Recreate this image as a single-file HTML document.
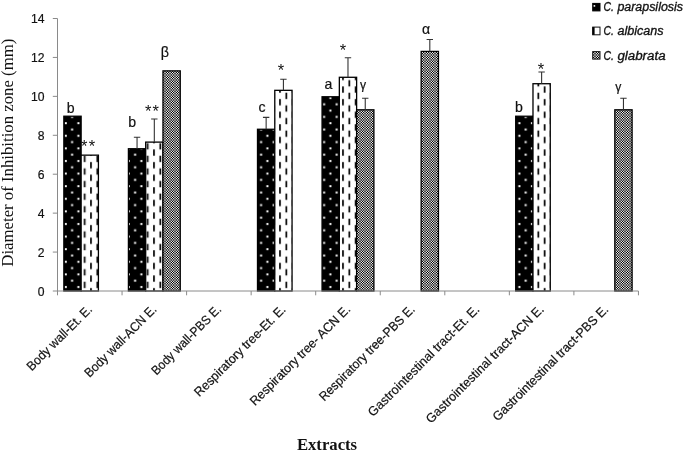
<!DOCTYPE html>
<html><head><meta charset="utf-8"><title>Chart</title>
<style>html,body{margin:0;padding:0;background:#fff}svg{display:block;will-change:transform}text{font-family:"Liberation Sans",sans-serif;fill:#111;stroke:#111;stroke-width:.2px}text.t{stroke:none}</style></head>
<body>
<svg width="685" height="452" viewBox="0 0 685 452">
<defs>
<pattern id="pd" patternUnits="userSpaceOnUse" x="0" y="0" width="12.6" height="12.6"><rect width="12.6" height="12.6" fill="#000"/><rect x="1.80" y="8.80" width="2.0" height="2.0" fill="#fff"/><rect x="8.10" y="2.50" width="2.0" height="2.0" fill="#fff"/></pattern>
<pattern id="pv" patternUnits="userSpaceOnUse" x="0" y="0" width="12.6" height="12.6"><rect width="12.6" height="12.6" fill="#fff"/><rect x="1.95" y="-1.75" width="1.7" height="6.3" fill="#000"/><rect x="1.95" y="10.85" width="1.7" height="6.3" fill="#000"/><rect x="8.25" y="4.55" width="1.7" height="6.3" fill="#000"/></pattern>
<pattern id="pc" patternUnits="userSpaceOnUse" x="0" y="0" width="5" height="5" shape-rendering="crispEdges"><rect x="0" y="0" width="1" height="1" fill="#878787"/><rect x="1" y="0" width="1" height="1" fill="#505050"/><rect x="2" y="0" width="1" height="1" fill="#a9a9a9"/><rect x="3" y="0" width="1" height="1" fill="#505050"/><rect x="4" y="0" width="1" height="1" fill="#878787"/><rect x="0" y="1" width="1" height="1" fill="#505050"/><rect x="1" y="1" width="1" height="1" fill="#e0e0e0"/><rect x="2" y="1" width="1" height="1" fill="#000000"/><rect x="3" y="1" width="1" height="1" fill="#e0e0e0"/><rect x="4" y="1" width="1" height="1" fill="#505050"/><rect x="0" y="2" width="1" height="1" fill="#a9a9a9"/><rect x="1" y="2" width="1" height="1" fill="#000000"/><rect x="2" y="2" width="1" height="1" fill="#ffffff"/><rect x="3" y="2" width="1" height="1" fill="#000000"/><rect x="4" y="2" width="1" height="1" fill="#a9a9a9"/><rect x="0" y="3" width="1" height="1" fill="#505050"/><rect x="1" y="3" width="1" height="1" fill="#e0e0e0"/><rect x="2" y="3" width="1" height="1" fill="#000000"/><rect x="3" y="3" width="1" height="1" fill="#e0e0e0"/><rect x="4" y="3" width="1" height="1" fill="#505050"/><rect x="0" y="4" width="1" height="1" fill="#878787"/><rect x="1" y="4" width="1" height="1" fill="#505050"/><rect x="2" y="4" width="1" height="1" fill="#a9a9a9"/><rect x="3" y="4" width="1" height="1" fill="#505050"/><rect x="4" y="4" width="1" height="1" fill="#878787"/></pattern>
</defs>
<rect width="685" height="452" fill="#fff"/>
<rect x="63.85" y="116.22" width="17.28" height="174.78" fill="url(#pd)" stroke="#000" stroke-width="1.3"/>
<rect x="81.13" y="155.15" width="17.28" height="135.85" fill="url(#pv)" stroke="#000" stroke-width="1.3"/>
<rect x="128.41" y="148.73" width="17.28" height="142.27" fill="url(#pd)" stroke="#000" stroke-width="1.3"/>
<path d="M137.05 148.73V137.20M133.85 137.20H140.25" stroke="#333" stroke-width="1.1" fill="none"/>
<rect x="145.69" y="142.11" width="17.28" height="148.89" fill="url(#pv)" stroke="#000" stroke-width="1.3"/>
<path d="M154.32 142.11V119.00M151.12 119.00H157.52" stroke="#333" stroke-width="1.1" fill="none"/>
<rect x="162.97" y="70.87" width="17.28" height="220.13" fill="url(#pc)" stroke="#000" stroke-width="1.3"/>
<rect x="257.50" y="129.26" width="17.28" height="161.74" fill="url(#pd)" stroke="#000" stroke-width="1.3"/>
<path d="M266.14 129.26V117.40M262.94 117.40H269.34" stroke="#333" stroke-width="1.1" fill="none"/>
<rect x="274.78" y="90.33" width="17.28" height="200.67" fill="url(#pv)" stroke="#000" stroke-width="1.3"/>
<path d="M283.42 90.33V79.20M280.22 79.20H286.62" stroke="#333" stroke-width="1.1" fill="none"/>
<rect x="322.06" y="96.76" width="17.28" height="194.24" fill="url(#pd)" stroke="#000" stroke-width="1.3"/>
<rect x="339.34" y="77.29" width="17.28" height="213.71" fill="url(#pv)" stroke="#000" stroke-width="1.3"/>
<path d="M347.98 77.29V57.80M344.78 57.80H351.18" stroke="#333" stroke-width="1.1" fill="none"/>
<rect x="356.62" y="109.80" width="17.28" height="181.20" fill="url(#pc)" stroke="#000" stroke-width="1.3"/>
<path d="M365.25 109.80V98.20M362.06 98.20H368.45" stroke="#333" stroke-width="1.1" fill="none"/>
<rect x="421.17" y="51.41" width="17.28" height="239.59" fill="url(#pc)" stroke="#000" stroke-width="1.3"/>
<path d="M429.81 51.41V39.50M426.61 39.50H433.00" stroke="#333" stroke-width="1.1" fill="none"/>
<rect x="515.70" y="116.22" width="17.28" height="174.78" fill="url(#pd)" stroke="#000" stroke-width="1.3"/>
<rect x="532.98" y="83.72" width="17.28" height="207.28" fill="url(#pv)" stroke="#000" stroke-width="1.3"/>
<path d="M541.62 83.72V72.00M538.42 72.00H544.82" stroke="#333" stroke-width="1.1" fill="none"/>
<rect x="614.82" y="109.80" width="17.28" height="181.20" fill="url(#pc)" stroke="#000" stroke-width="1.3"/>
<path d="M623.46 109.80V98.20M620.25 98.20H626.66" stroke="#333" stroke-width="1.1" fill="none"/>
<path d="M57.5 18.5V295.3" stroke="#8a8a8a" stroke-width="1" fill="none"/>
<path d="M52.8 291.0H638.45" stroke="#8a8a8a" stroke-width="1" fill="none"/>
<text x="44.6" y="295.60" font-size="12.5" text-anchor="end" textLength="6.76" lengthAdjust="spacingAndGlyphs">0</text>
<path d="M52.8 252.07H57.5" stroke="#8a8a8a" stroke-width="1" fill="none"/>
<text x="44.6" y="256.67" font-size="12.5" text-anchor="end" textLength="6.76" lengthAdjust="spacingAndGlyphs">2</text>
<path d="M52.8 213.14H57.5" stroke="#8a8a8a" stroke-width="1" fill="none"/>
<text x="44.6" y="217.74" font-size="12.5" text-anchor="end" textLength="6.76" lengthAdjust="spacingAndGlyphs">4</text>
<path d="M52.8 174.21H57.5" stroke="#8a8a8a" stroke-width="1" fill="none"/>
<text x="44.6" y="178.81" font-size="12.5" text-anchor="end" textLength="6.76" lengthAdjust="spacingAndGlyphs">6</text>
<path d="M52.8 135.29H57.5" stroke="#8a8a8a" stroke-width="1" fill="none"/>
<text x="44.6" y="139.89" font-size="12.5" text-anchor="end" textLength="6.76" lengthAdjust="spacingAndGlyphs">8</text>
<path d="M52.8 96.36H57.5" stroke="#8a8a8a" stroke-width="1" fill="none"/>
<text x="44.6" y="100.96" font-size="12.5" text-anchor="end" textLength="13.52" lengthAdjust="spacingAndGlyphs">10</text>
<path d="M52.8 57.43H57.5" stroke="#8a8a8a" stroke-width="1" fill="none"/>
<text x="44.6" y="62.03" font-size="12.5" text-anchor="end" textLength="13.52" lengthAdjust="spacingAndGlyphs">12</text>
<path d="M52.8 18.50H57.5" stroke="#8a8a8a" stroke-width="1" fill="none"/>
<text x="44.6" y="23.10" font-size="12.5" text-anchor="end" textLength="13.52" lengthAdjust="spacingAndGlyphs">14</text>
<path d="M122.05 291.0V295.3" stroke="#8a8a8a" stroke-width="1" fill="none"/>
<path d="M186.60 291.0V295.3" stroke="#8a8a8a" stroke-width="1" fill="none"/>
<path d="M251.15 291.0V295.3" stroke="#8a8a8a" stroke-width="1" fill="none"/>
<path d="M315.70 291.0V295.3" stroke="#8a8a8a" stroke-width="1" fill="none"/>
<path d="M380.25 291.0V295.3" stroke="#8a8a8a" stroke-width="1" fill="none"/>
<path d="M444.80 291.0V295.3" stroke="#8a8a8a" stroke-width="1" fill="none"/>
<path d="M509.35 291.0V295.3" stroke="#8a8a8a" stroke-width="1" fill="none"/>
<path d="M573.90 291.0V295.3" stroke="#8a8a8a" stroke-width="1" fill="none"/>
<path d="M638.45 291.0V295.3" stroke="#8a8a8a" stroke-width="1" fill="none"/>
<text transform="translate(92.88 310.2) rotate(-45)" x="0" y="0" font-size="12.8" text-anchor="end" textLength="86.58" lengthAdjust="spacingAndGlyphs">Body wall-Et. E.</text>
<text transform="translate(157.42 310.2) rotate(-45)" x="0" y="0" font-size="12.8" text-anchor="end" textLength="96.01" lengthAdjust="spacingAndGlyphs">Body wall-ACN E.</text>
<text transform="translate(221.97 310.2) rotate(-45)" x="0" y="0" font-size="12.8" text-anchor="end" textLength="92.72" lengthAdjust="spacingAndGlyphs">Body wall-PBS E.</text>
<text transform="translate(286.52 310.2) rotate(-45)" x="0" y="0" font-size="12.8" text-anchor="end" textLength="123.25" lengthAdjust="spacingAndGlyphs">Respiratory tree-Et. E.</text>
<text transform="translate(351.07 310.2) rotate(-45)" x="0" y="0" font-size="12.8" text-anchor="end" textLength="135.79" lengthAdjust="spacingAndGlyphs">Respiratory tree- ACN E.</text>
<text transform="translate(415.62 310.2) rotate(-45)" x="0" y="0" font-size="12.8" text-anchor="end" textLength="129.39" lengthAdjust="spacingAndGlyphs">Respiratory tree-PBS E.</text>
<text transform="translate(480.18 310.2) rotate(-45)" x="0" y="0" font-size="12.8" text-anchor="end" textLength="151.54" lengthAdjust="spacingAndGlyphs">Gastrointestinal tract-Et. E.</text>
<text transform="translate(544.73 310.2) rotate(-45)" x="0" y="0" font-size="12.8" text-anchor="end" textLength="160.96" lengthAdjust="spacingAndGlyphs">Gastrointestinal tract-ACN E.</text>
<text transform="translate(609.27 310.2) rotate(-45)" x="0" y="0" font-size="12.8" text-anchor="end" textLength="157.68" lengthAdjust="spacingAndGlyphs">Gastrointestinal tract-PBS E.</text>
<text transform="translate(13.3 152.7) rotate(-90)" class="t" text-anchor="middle" font-size="16.75" style="font-family:'Liberation Serif',serif">Diameter of Inhibition zone (mm)</text>
<text x="327" y="449.8" class="t" text-anchor="middle" font-size="16.7" font-weight="bold" style="font-family:'Liberation Serif',serif">Extracts</text>
<rect x="592.7" y="3.40" width="7.3" height="7.5" fill="#000" stroke="#000" stroke-width="1"/><rect x="593.6" y="5.1" width="1.6" height="1.6" fill="#fff"/>
<text x="603.6" y="11.10" font-size="12.5" font-style="italic" style="stroke-width:.32px" textLength="10.4" lengthAdjust="spacingAndGlyphs">C.</text>
<text x="617.4" y="11.10" font-size="12.5" font-style="italic" style="stroke-width:.32px" textLength="65.6" lengthAdjust="spacingAndGlyphs">parapsilosis</text>
<rect x="592.7" y="27.10" width="7.3" height="7.7" fill="#fff" stroke="#111" stroke-width="1"/><rect x="592.4" y="27.10" width="2.2" height="7.7" fill="#000"/>
<text x="603.6" y="35.30" font-size="12.5" font-style="italic" style="stroke-width:.32px" textLength="10.4" lengthAdjust="spacingAndGlyphs">C.</text>
<text x="617.4" y="35.30" font-size="12.5" font-style="italic" style="stroke-width:.32px" textLength="46.2" lengthAdjust="spacingAndGlyphs">albicans</text>
<rect x="592.7" y="51.60" width="7.3" height="7.5" fill="url(#pc)" stroke="#111" stroke-width="1"/>
<text x="603.6" y="59.60" font-size="12.5" font-style="italic" style="stroke-width:.32px" textLength="10.4" lengthAdjust="spacingAndGlyphs">C.</text>
<text x="617.4" y="59.60" font-size="12.5" font-style="italic" style="stroke-width:.32px" textLength="48.2" lengthAdjust="spacingAndGlyphs">glabrata</text>
<text x="70.7" y="112.5" font-size="14.1" text-anchor="middle">b</text>
<text x="88.69999999999999" y="152.4" font-size="16.5" text-anchor="middle" class="t" letter-spacing="1.2">**</text>
<text x="132.1" y="126.9" font-size="14.1" text-anchor="middle">b</text>
<text x="152.6" y="117.0" font-size="16.5" text-anchor="middle" class="t" letter-spacing="1.2">**</text>
<text x="164.8" y="57" font-size="14.3" text-anchor="middle">β</text>
<text x="262" y="111.6" font-size="14.1" text-anchor="middle">c</text>
<text x="280.9" y="76.2" font-size="16.5" text-anchor="middle" class="t" letter-spacing="0">*</text>
<text x="328.4" y="89.1" font-size="14.1" text-anchor="middle">a</text>
<text x="343.0" y="55.6" font-size="16.5" text-anchor="middle" class="t" letter-spacing="0">*</text>
<text x="363.0" y="89.4" font-size="12.2" text-anchor="middle">γ</text>
<text x="426" y="33.9" font-size="14.1" text-anchor="middle">α</text>
<text x="518.8" y="111.8" font-size="14.1" text-anchor="middle">b</text>
<text x="540.9" y="74.9" font-size="16.5" text-anchor="middle" class="t" letter-spacing="0">*</text>
<text x="618.3" y="90.9" font-size="12.2" text-anchor="middle">γ</text>
</svg>
</body></html>
